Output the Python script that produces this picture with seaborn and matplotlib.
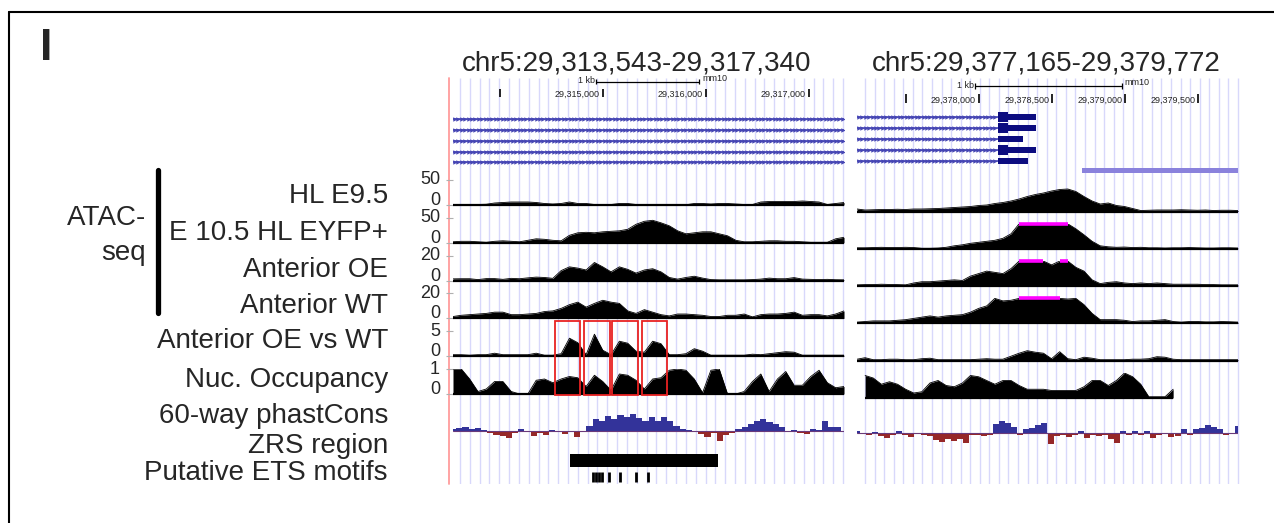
import numpy as np
import matplotlib
matplotlib.use("Agg")
import matplotlib.pyplot as plt
from matplotlib.patches import Rectangle
from matplotlib.lines import Line2D
from matplotlib.transforms import ScaledTranslation
import seaborn as sns

sns.set_style("white")
plt.rcParams["font.family"] = ["Liberation Sans", "DejaVu Sans"]

# ---- regions (mm10) ----
left_title = "chr5:29,313,543-29,317,340"
right_title = "chr5:29,377,165-29,379,772"
left_region = (29313543, 29317340)
right_region = (29377165, 29379772)

track_labels = ["HL E9.5", "E 10.5 HL EYFP+", "Anterior OE", "Anterior WT",
                "Anterior OE vs WT", "Nuc. Occupancy", "60-way phastCons",
                "ZRS region", "Putative ETS motifs"]
track_max = [50, 50, 20, 20, 5, 1]

# ruler
left_ticks = [29314000, 29315000, 29316000, 29317000]
left_tick_labels = ["", "29,315,000", "29,316,000", "29,317,000"]
right_ticks = [29377500, 29378000, 29378500, 29379000, 29379500]
right_tick_labels = ["", "29,378,000", "29,378,500", "29,379,000", "29,379,500"]
left_scalebar = (29314932, 29315932)
right_scalebar = (29377975, 29378975)

# genes in right window: (exon start, tall block end, block end)
right_isoforms = [(29378130, 29378198, 29378391),
                  (29378130, 29378198, 29378391),
                  (29378130, 29378130, 29378304),
                  (29378130, 29378198, 29378391),
                  (29378130, 29378130, 29378338)]
right_feature = (29378704, 29379775)

# annotations
zrs_region = (29314680, 29316117)
ets_motifs = [29314900, 29314929, 29314958, 29314987, 29315061,
              29315165, 29315320, 29315440]
highlight_boxes = [(29314534, 29314777), (29314818, 29315068),
                   (29315090, 29315343), (29315382, 29315624)]

# ---- signal tracks, left window (48 samples across the window) ----
l_hl95 = [1, 1, 1, 1, 1.5, 4, 5, 6, 6, 6, 5, 3, 2, 3, 6, 3, 3, 1, 0.5, 1, 3, 3, 1, 0.5,
          0.5, 1, 1, 1, 0.5, 3, 3, 2, 3, 3, 2, 1, 1, 6, 7, 7, 7, 7, 8, 7, 6, 1, 3, 5]
l_e105 = [2, 3, 3, 2, 1, 3, 4, 3, 2, 5, 8, 7, 5, 4, 15, 20, 21, 20, 22, 23, 24, 27, 37, 43,
          45, 40, 34, 24, 18, 20, 22, 22, 18, 14, 5, 2, 2, 3, 4, 4, 3, 3, 2, 1, 1, 1, 8, 11]
l_oe = [1.4, 1.5, 1.5, 0.8, 1.6, 1.6, 1.0, 1.8, 1.5, 2.2, 2.8, 2.5, 1.8, 8, 11, 10, 8.5, 14.5,
        11, 7, 11, 9, 6, 8.5, 9.5, 7, 2.5, 1.2, 2.5, 3.5, 2, 0.8, 0.6, 0.6, 0.6, 0.6, 0.8, 1.2,
        2, 1.5, 1.5, 2.4, 1.2, 1, 0.8, 1, 0.7, 0.6]
l_wt = [1.5, 2.5, 3, 3.5, 4, 5, 5, 3, 3, 3.5, 4, 5.5, 6, 8, 11, 13, 9, 12, 14.5, 13, 12, 6, 4, 7,
        5, 3, 2, 3.5, 3.5, 3, 2.5, 1.5, 1.5, 2.5, 2.5, 3.5, 1.2, 3, 3.5, 3.5, 4, 5, 2.5, 3, 3, 2,
        3.5, 6]
l_diff = [0.3, 0.3, 0.2, 0.3, 0.3, 0.6, 0.3, 0.3, 0.3, 0.3, 0.6, 0.2, 0.2, 0.5, 3.6, 2.7, 0.3,
          4.4, 1.2, 0.3, 3.0, 2.6, 1.0, 0.8, 3.0, 2.5, 0.3, 0.3, 0.5, 1.5, 1.0, 0.2, 0.2, 0.2,
          0.2, 0.2, 0.4, 0.3, 0.5, 0.7, 0.9, 0.8, 0.2, 0.2, 0.2, 0.2, 0.2, 0.2]
l_nuc = [1.0, 1.0, 0.6, 0.1, 0.2, 0.5, 0.5, 0.1, 0, 0, 0.55, 0.6, 0.45, 0.6, 0.7, 0.65, 0.3,
         0.75, 0.5, 0.15, 0.8, 0.75, 0.55, 0.2, 0.6, 0.65, 0.95, 1.0, 0.95, 0.6, 0.05, 0.95,
         1.0, 0, 0, 0.1, 0.5, 0.8, 0.1, 0.6, 0.9, 0.35, 0.35, 0.7, 0.95, 0.45, 0.25, 0.3]
l_phast = [6, 8, 10, 5, 8, 3, -6, -12, -15, -22, -8, 4, -3, -15, -8, -14, 3, -4, -10, -5,
           -18, -3, 15, 35, 30, 45, 35, 48, 40, 50, 38, 30, 40, 28, 42, 30, 15, 5, 3, -3,
           -10, -18, -8, -30, -12, -6, 5, 12, 20, 28, 35, 25, 20, 10, -4, 3, -6, -10, 5, 3,
           30, 10, 12, -5]

# ---- signal tracks, right window ----
r_hl95 = [5, 3, 3.5, 4, 4, 4.5, 4, 5, 5, 5.5, 6, 7, 8, 9, 10, 12, 13, 16, 18, 21, 25, 30, 34,
          37, 41, 44, 45, 40, 30, 21, 15, 17, 12, 10, 6, 2, 2.5, 3, 3, 3, 3.5, 3, 2.5, 3, 2,
          2.5, 2.5, 2]
r_e105 = [2, 2, 2.5, 3, 2.5, 2.5, 3, 2.5, 1, 1, 1.5, 3, 6, 8, 11, 13, 15, 17, 21, 30, 52, 52,
          52, 52, 52, 52, 52, 40, 28, 15, 6, 4, 3, 3.5, 2.5, 3, 2, 2, 1.5, 2, 2, 2.5, 2, 1.5,
          1.5, 2, 2, 1.5]
r_oe = [1, 1.2, 1.2, 1.5, 1.3, 1.2, 1, 2.5, 3.5, 3.5, 4, 4.5, 5, 4.5, 8, 10, 12, 11, 10, 14,
        21, 21, 21, 21, 17, 21, 21, 15, 12, 5, 2, 3, 3.5, 2.5, 2, 2.5, 2, 2.5, 2, 1.5, 1.5,
        1.5, 1.5, 1.2, 1.2, 1, 1, 1]
r_wt = [1, 1.5, 2, 2, 2, 2.5, 3, 4, 5, 6, 5, 6, 6.5, 7, 9, 12, 14, 21, 18, 18.5, 21, 21, 21,
        21, 21, 21, 19.5, 21, 15, 8, 3, 3, 3, 2.5, 1.5, 2, 2, 2.5, 3, 1.5, 1, 1.5, 1.5, 1.2,
        1.2, 1.5, 1.3, 1]
r_diff = [0.3, 0.6, 0.2, 0.2, 0.3, 0.3, 0.2, 0.2, 0.4, 0.5, 0.2, 0.2, 0.2, 0.2, 0.2, 0.3, 0.4,
          0.3, 0.3, 0.9, 1.5, 2, 1.7, 1.5, 0.4, 1.8, 0.4, 0.2, 0.7, 0.5, 0.2, 0.2, 0.2, 0.2,
          0.3, 0.3, 0.4, 0.8, 0.7, 0.3, 0.2, 0.2, 0.2, 0.2, 0.2, 0.2, 0.2, 0.2]
r_nuc = [np.nan, 0.9, 0.8, 0.55, 0.65, 0.55, 0.35, 0.2, 0.25, 0.6, 0.7, 0.5, 0.45, 0.6, 0.9,
         0.85, 0.7, 0.55, 0.7, 0.7, 0.5, 0.35, 0.35, 0.35, 0.3, 0.3, 0.3, 0.3, 0.45, 0.7, 0.7,
         0.5, 0.7, 1.0, 0.85, 0.55, 0.05, 0.05, 0.05, 0.35] + [np.nan] * 8
r_phast = [6, -4, -6, 3, -10, -15, -8, 4, -6, -12, -5, -8, -10, -22, -28, -20, -25, -18, -30,
           -8, -6, -10, -8, 25, 35, 28, 18, -8, 12, 15, 22, 28, -35, -10, -8, -12, -6, 5, -15,
           -8, -10, -6, -18, -30, 5, -8, 6, -6, 4, -15, -8, -4, -12, -10, 12, -6, 10, 15, 22,
           18, 12, -8, -5, 20]

left_signals = [l_hl95, l_e105, l_oe, l_wt, l_diff, l_nuc]
right_signals = [r_hl95, r_e105, r_oe, r_wt, r_diff, r_nuc]

intron_color = "#4646b4"
exon_color = "#0c0c80"
guide_color = "#d8d8fb"

W, H = 1274, 523
fig = plt.figure(figsize=(W / 100, H / 100), dpi=100)


def axes_px(x0, y0, x1, y1):
    ax = fig.add_axes([x0 / W, 1 - y1 / H, (x1 - x0) / W, (y1 - y0) / H])
    ax.set_facecolor("none")
    for s in ax.spines.values():
        s.set_visible(False)
    ax.set_xticks([])
    ax.set_yticks([])
    return ax


LX = (453, 844)
RX = (857, 1238)

# background guide lines
bg = axes_px(449, 78, 845, 484)
bg.set_xlim(0, 1); bg.set_ylim(0, 1)
bg.vlines(np.linspace(11 / 396, 394 / 396, 40), 0, 1, color=guide_color, lw=1)
bg.axvline(0, color="#ff9c9c", lw=1.3, clip_on=False)
bg = axes_px(857, 78, 1240, 484)
bg.set_xlim(0, 1); bg.set_ylim(0, 1)
bg.vlines(np.linspace(8 / 383, 381 / 383, 40), 0, 1, color=guide_color, lw=1)

# titles
fig.text(636.5 / W, 1 - 70.5 / H, left_title, ha="center", va="baseline", fontsize=20)
fig.text(1046 / W, 1 - 70.5 / H, right_title, ha="center", va="baseline", fontsize=20)


def draw_ruler(xr, region, ticks, labels, bar, ybar, ytick):
    ax = axes_px(xr[0], 70, xr[1], 112)
    ax.set_xlim(region); ax.set_ylim(112, 70)
    bpp = (region[1] - region[0]) / (xr[1] - xr[0])
    ax.hlines(ybar, bar[0], bar[1], color="k", lw=0.9)
    ax.vlines(bar, ybar - 2.7, ybar + 2.7, color="k", lw=0.9)
    ax.text(bar[0] - 1.5 * bpp, ybar - 1.0, "1 kb", ha="right", va="center", fontsize=6.5)
    ax.text(bar[1] + 3 * bpp, ybar - 3.2, "mm10", ha="left", va="center", fontsize=6.5)
    ax.vlines(ticks, ytick - 8.5, ytick, color="k", lw=1.2)
    for t, lab in zip(ticks, labels):
        ax.text(t - 3 * bpp, ytick, lab, ha="right", va="baseline", fontsize=6.5)
    return bpp


bpp_l = draw_ruler(LX, left_region, left_ticks, left_tick_labels, left_scalebar, 81.7, 97)
bpp_r = draw_ruler(RX, right_region, right_ticks, right_tick_labels, right_scalebar, 86, 102.5)


def draw_intron(ax, s, e, y, bpp):
    ax.hlines(y, s, e, color=intron_color, lw=1.2)
    xs = np.arange(s + 2 * bpp, e, 3.4 * bpp)
    ax.plot(xs, [y] * len(xs), ls="none", marker=">", ms=3.2, mew=0, color=intron_color)


# genes
gl = axes_px(LX[0], 108, LX[1], 170)
gl.set_xlim(left_region); gl.set_ylim(170, 108)
for y in [119, 129.5, 140.5, 151.5, 162]:
    draw_intron(gl, left_region[0], left_region[1], y, bpp_l)

gr = axes_px(RX[0], 106, RX[1], 178)
gr.set_xlim(right_region); gr.set_ylim(178, 106)
for y, (es, te, be) in zip([117, 128, 139, 150, 161], right_isoforms):
    draw_intron(gr, right_region[0], es, y, bpp_r)
    if te > es:
        gr.add_patch(Rectangle((es, y - 4.75), te - es, 9.5, color=exon_color, lw=0))
    gr.add_patch(Rectangle((te, y - 2.75), be - te, 5.5, color=exon_color, lw=0))
gr.add_patch(Rectangle((right_feature[0], 168), right_feature[1] - right_feature[0], 5,
                       color="#8a82dc", lw=0))


def draw_signal(ax, region, vals, ymax):
    v = np.array(vals, dtype=float)
    xs = np.linspace(region[0], region[1], len(v))
    clipped = np.minimum(v, ymax)
    ax.fill_between(xs, 0, clipped, color="black", lw=0)
    sns.lineplot(x=xs, y=clipped, ax=ax, color="black", lw=0.6, legend=False)
    over = np.where(v > ymax, ymax, np.nan)
    ax.plot(xs, over, color="#ff00ff", lw=2.6, solid_capstyle="butt", clip_on=False)
    ok = ~np.isnan(v)
    ax.hlines(0, xs[ok][0], xs[ok][-1], color="black", lw=1.6, clip_on=False)
    ax.set_xlim(region)
    ax.set_ylim(0, ymax)
    ax.set_xlabel(""); ax.set_ylabel("")


for i, (vals, ymax) in enumerate(zip(left_signals, track_max)):
    top = 180 + 37.8 * i
    ax = axes_px(LX[0], top, LX[1], top + 25)
    draw_signal(ax, left_region, vals, ymax)
    ax.set_xticks([])
    ax.set_yticks([0, ymax])
    ax.set_yticklabels([])
    ax.tick_params(axis="y", left=True, length=5, width=0.8, color="#b0b0b0")
    ytr = ax.get_yaxis_transform()
    ax.text(0, ymax, str(ymax), transform=ytr + ScaledTranslation(-0.13, 0, fig.dpi_scale_trans),
            ha="right", va="center", fontsize=13)
    ax.text(0, 0, "0", transform=ytr + ScaledTranslation(-0.13, 0.045, fig.dpi_scale_trans),
            ha="right", va="center", fontsize=13)

for i, (vals, ymax) in enumerate(zip(right_signals, track_max)):
    top = 186.5 + 37.3 * i
    ax = axes_px(RX[0], top, RX[1], top + 25)
    draw_signal(ax, right_region, vals, ymax)
    ax.set_xticks([]); ax.set_yticks([])


def draw_phast(xr, yc, region, vals):
    ax = axes_px(xr[0], yc - 55 / 3, xr[1], yc + 45 / 3)
    v = np.array(vals, dtype=float)
    xs = np.linspace(region[0], region[1], len(v))
    step = xs[1] - xs[0]
    colors = np.where(v > 0, "#33339a", "#962828")
    ax.bar(xs, v, width=step, color=colors, lw=0)
    ax.axhline(0, color="#6a3a7a", lw=0.8)
    ax.set_xlim(region); ax.set_ylim(-45, 55)


draw_phast(LX, 430.7, left_region, l_phast)
draw_phast(RX, 432.7, right_region, r_phast)

# ZRS region + ETS motifs
an = axes_px(LX[0], 450, LX[1], 486)
an.set_xlim(left_region); an.set_ylim(486, 450)
an.add_patch(Rectangle((zrs_region[0], 454), zrs_region[1] - zrs_region[0], 13,
                       color="black", lw=0))
an.vlines(ets_motifs, 472, 482, color="black", lw=2)

# highlight boxes over OE-vs-WT and nucleosome tracks
bx = axes_px(LX[0], 321, LX[1], 395)
bx.set_xlim(left_region); bx.set_ylim(0, 1)
for s, e in highlight_boxes:
    bx.add_patch(Rectangle((s, 0), e - s, 1, fill=False, edgecolor="#e82222", lw=1.3,
                           clip_on=False))

# labels
label_baselines = [202.7, 240, 276.7, 313.3, 348.3, 386.7, 423.3, 453.3, 480]
for lab, yb in zip(track_labels, label_baselines):
    fig.text(388 / W, 1 - yb / H, lab, ha="right", va="baseline", fontsize=20)
fig.text(146 / W, 1 - 225 / H, "ATAC-", ha="right", va="baseline", fontsize=20)
fig.text(146 / W, 1 - 260 / H, "seq", ha="right", va="baseline", fontsize=20)
fig.add_artist(Line2D([158 / W, 158 / W], [1 - 170 / H, 1 - 313 / H], color="k", lw=3.8))

fig.text(46.5 / W, 1 - 60 / H, "I", ha="center", va="baseline", fontsize=32,
         fontweight="bold")

# frame
fig.add_artist(Line2D([9 / W, 1], [1 - 12 / H, 1 - 12 / H], color="k", lw=1.5))
fig.add_artist(Line2D([9 / W, 9 / W], [1 - 12 / H, 0], color="k", lw=1.5))

fig.savefig("out.png", dpi=100)
